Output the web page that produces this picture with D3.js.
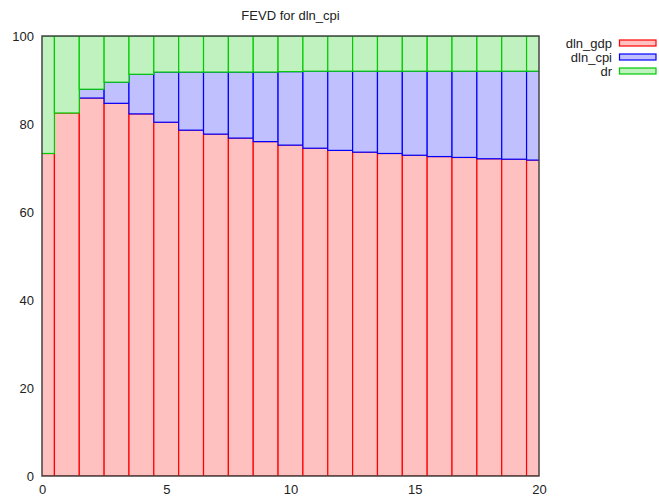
<!DOCTYPE html>
<html>
<head>
<meta charset="utf-8">
<script src="https://cdn.jsdelivr.net/npm/d3@7"></script>
<style>
  body { margin: 0; background: #fff; }
  text { font-family: "Liberation Sans", Arial, Helvetica, sans-serif; fill: #222; }
</style>
</head>
<body>
<div id="chart"></div>
<script>
// horizon steps 0..20
const steps = d3.range(0, 21);
// share of forecast error variance of dln_cpi, in percent
const dlnGdp = [73.3, 82.5, 85.9, 84.7, 82.3, 80.4, 78.6, 77.7, 76.8, 76.0, 75.2,
                74.5, 74.0, 73.6, 73.3, 72.9, 72.6, 72.4, 72.1, 72.0, 71.8];
const dlnCpi = [0.0, 0.0, 2.0, 4.8, 9.0, 11.4, 13.2, 14.1, 15.0, 15.8, 16.7,
                17.5, 18.0, 18.4, 18.7, 19.1, 19.4, 19.6, 19.9, 20.0, 20.2];
const dr = dlnGdp.map((g, i) => +(100 - g - dlnCpi[i]).toFixed(1));
const seriesNames = ['dln_gdp', 'dln_cpi', 'dr'];
const xTicks = [0, 5, 10, 15, 20];
const yTicks = [0, 20, 40, 60, 80, 100];

const width = 659;
const height = 502;
const margin = { top: 36, right: 120, bottom: 26, left: 42 };

const fills = ['#ffc0c0', '#c0c0ff', '#c0f2c0'];
const strokes = ['#ff0000', '#0000ff', '#00cc00'];

const svg = d3.select('#chart')
    .append('svg')
    .attr('width', width)
    .attr('height', height);

const x = d3.scaleLinear()
    .domain([0, 20])
    .range([margin.left, width - margin.right]);

const y = d3.scaleLinear()
    .domain([0, 100])
    .range([height - margin.bottom, margin.top]);

const table = steps.map((s, i) => ({
    step: s, dln_gdp: dlnGdp[i], dln_cpi: dlnCpi[i], dr: dr[i]
}));
const stacked = d3.stack().keys(seriesNames)(table);

svg.append('clipPath')
    .attr('id', 'plot-clip')
    .append('rect')
    .attr('x', x(0))
    .attr('y', y(100))
    .attr('width', x(20) - x(0))
    .attr('height', y(0) - y(100));

const bars = svg.append('g').attr('clip-path', 'url(#plot-clip)');

stacked.forEach((layer, k) => {
    bars.append('g')
        .selectAll('rect')
        .data(layer)
        .join('rect')
        .attr('x', (d) => x(d.data.step - 0.5))
        .attr('width', x(1) - x(0))
        .attr('y', (d) => y(Math.min(d[1], 100)))
        .attr('height', (d) => y(d[0]) - y(Math.min(d[1], 100)))
        .attr('fill', fills[k])
        .attr('stroke', strokes[k])
        .attr('stroke-width', 1.2);
});

// frame
svg.append('rect')
    .attr('x', x(0))
    .attr('y', y(100))
    .attr('width', x(20) - x(0))
    .attr('height', y(0) - y(100))
    .attr('fill', 'none')
    .attr('stroke', '#444')
    .attr('stroke-width', 1.5);

// axes
const xAxis = svg.append('g')
    .attr('transform', `translate(0,${y(0)})`)
    .call(d3.axisBottom(x).tickValues(xTicks).tickSize(0).tickPadding(9));
xAxis.select('.domain').remove();

const yAxis = svg.append('g')
    .attr('transform', `translate(${x(0)},0)`)
    .call(d3.axisLeft(y).tickValues(yTicks).tickSize(0).tickPadding(8));
yAxis.select('.domain').remove();

svg.selectAll('.tick text')
    .attr('font-family', '"Liberation Sans", Arial, sans-serif')
    .attr('font-size', 13)
    .attr('fill', '#222');

// title
svg.append('text')
    .attr('x', (x(0) + x(20)) / 2)
    .attr('y', 20)
    .attr('text-anchor', 'middle')
    .attr('font-size', 13)
    .text('FEVD for dln_cpi');

// legend
const legend = svg.append('g')
    .selectAll('g')
    .data(seriesNames)
    .join('g')
    .attr('transform', (d, i) => `translate(0,${43 + i * 14})`);

legend.append('text')
    .attr('x', 612)
    .attr('y', 4.5)
    .attr('text-anchor', 'end')
    .attr('font-size', 13)
    .text((d) => d);

legend.append('rect')
    .attr('x', 619.5)
    .attr('y', -3)
    .attr('width', 36.5)
    .attr('height', 6)
    .attr('fill', (d, i) => fills[i])
    .attr('stroke', (d, i) => strokes[i])
    .attr('stroke-width', 1.2);
</script>
</body>
</html>
